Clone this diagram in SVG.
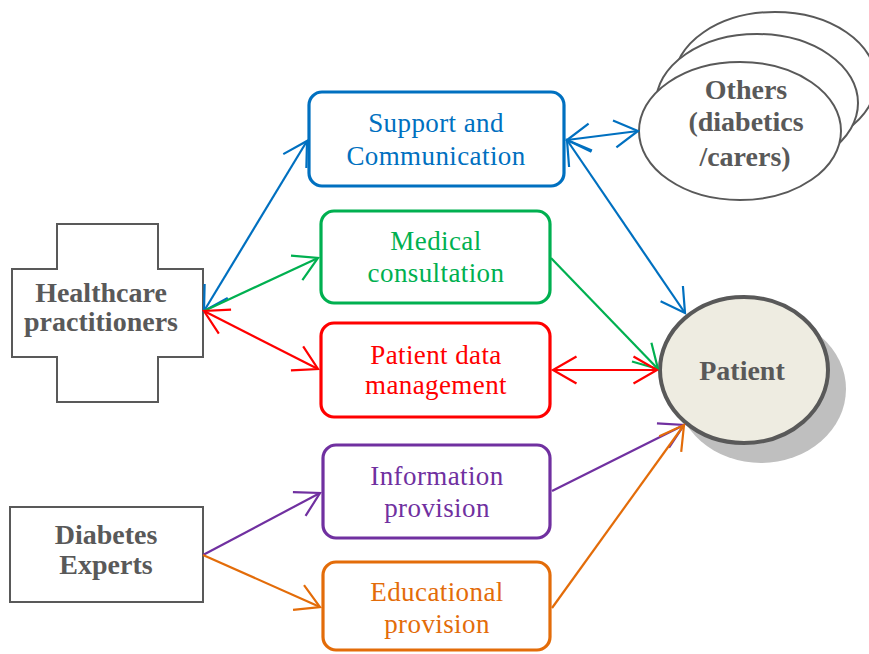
<svg xmlns="http://www.w3.org/2000/svg" width="869" height="654" viewBox="0 0 869 654">
<style>
.box{fill:#fff;stroke-width:3.2}
.lbl{font-family:"Liberation Serif",serif;font-size:27px;letter-spacing:0.4px;text-anchor:middle}
.bold{font-family:"Liberation Serif",serif;font-weight:bold;font-size:28px;fill:#595959;text-anchor:middle}
.gray{fill:#fff;stroke:#595959;stroke-width:2}
.c{fill:none;stroke-width:2.2}
</style>
<defs>
<marker id="mb" markerUnits="userSpaceOnUse" orient="auto-start-reverse" viewBox="-30 -20 34 40" markerWidth="34" markerHeight="40" refX="0" refY="0"><path d="M-23.5,-13.5 L0,0 L-23.5,13.5" fill="none" stroke="#0070C0" stroke-width="2.2"/></marker>
<marker id="mg" markerUnits="userSpaceOnUse" orient="auto-start-reverse" viewBox="-30 -20 34 40" markerWidth="34" markerHeight="40" refX="0" refY="0"><path d="M-23.5,-13.5 L0,0 L-23.5,13.5" fill="none" stroke="#00B050" stroke-width="2.2"/></marker>
<marker id="mr" markerUnits="userSpaceOnUse" orient="auto-start-reverse" viewBox="-30 -20 34 40" markerWidth="34" markerHeight="40" refX="0" refY="0"><path d="M-23.5,-13.5 L0,0 L-23.5,13.5" fill="none" stroke="#FF0000" stroke-width="2.2"/></marker>
<marker id="mp" markerUnits="userSpaceOnUse" orient="auto-start-reverse" viewBox="-30 -20 34 40" markerWidth="34" markerHeight="40" refX="0" refY="0"><path d="M-23.5,-13.5 L0,0 L-23.5,13.5" fill="none" stroke="#7030A0" stroke-width="2.2"/></marker>
<marker id="mo" markerUnits="userSpaceOnUse" orient="auto-start-reverse" viewBox="-30 -20 34 40" markerWidth="34" markerHeight="40" refX="0" refY="0"><path d="M-23.5,-13.5 L0,0 L-23.5,13.5" fill="none" stroke="#E36C09" stroke-width="2.2"/></marker>
</defs>

<g id="others">
<ellipse cx="775" cy="81" rx="101" ry="69" class="gray"/>
<ellipse cx="757" cy="103" rx="101" ry="69" class="gray"/>
<ellipse cx="740" cy="131" rx="101" ry="69" class="gray"/>
<text class="bold" x="746" y="99">Others</text>
<text class="bold" x="746" y="131">(diabetics</text>
<text class="bold" x="745" y="166">/carers)</text>
</g>

<g id="healthcare">
<path d="M57,224 H158 V269 H203 V357 H158 V402 H57 V357 H12 V269 H57 Z" class="gray"/>
<text class="bold" x="101" y="302">Healthcare</text>
<text class="bold" x="101" y="331">practitioners</text>
</g>

<g id="diabetes">
<rect x="10" y="507" width="193" height="95" class="gray"/>
<text class="bold" x="106" y="544">Diabetes</text>
<text class="bold" x="106" y="574">Experts</text>
</g>

<g id="support">
<rect x="309" y="92" width="255" height="94" rx="13" class="box" stroke="#0070C0"/>
<text class="lbl" fill="#0070C0" x="436" y="132">Support and</text>
<text class="lbl" fill="#0070C0" x="436" y="165">Communication</text>
</g>

<g id="medical">
<rect x="321" y="211" width="229" height="92" rx="13" class="box" stroke="#00B050"/>
<text class="lbl" fill="#00B050" x="436" y="250">Medical</text>
<text class="lbl" fill="#00B050" x="436" y="282">consultation</text>
</g>

<g id="patientdata">
<rect x="321" y="323" width="229" height="94" rx="13" class="box" stroke="#FF0000"/>
<text class="lbl" fill="#FF0000" x="436" y="364">Patient data</text>
<text class="lbl" fill="#FF0000" x="436" y="394">management</text>
</g>

<g id="information">
<rect x="323" y="445" width="227" height="93" rx="13" class="box" stroke="#7030A0"/>
<text class="lbl" fill="#7030A0" x="437" y="485">Information</text>
<text class="lbl" fill="#7030A0" x="437" y="517">provision</text>
</g>

<g id="educational">
<rect x="323" y="562" width="227" height="88" rx="13" class="box" stroke="#E36C09"/>
<text class="lbl" fill="#E36C09" x="437" y="601">Educational</text>
<text class="lbl" fill="#E36C09" x="437" y="633">provision</text>
</g>

<g id="patient">
<ellipse cx="761" cy="389" rx="85" ry="74" fill="#BFBFBF"/>
<ellipse cx="744" cy="370" rx="84" ry="73" fill="#EEECE1" stroke="#595959" stroke-width="4"/>
<text class="bold" x="742" y="380">Patient</text>
</g>

<g id="connectors">
<line class="c" stroke="#0070C0" x1="204" y1="311" x2="307" y2="141" marker-start="url(#mb)" marker-end="url(#mb)"/>
<line class="c" stroke="#00B050" x1="204" y1="311" x2="318" y2="258" marker-end="url(#mg)"/>
<line class="c" stroke="#FF0000" x1="204" y1="311" x2="318" y2="369" marker-start="url(#mr)" marker-end="url(#mr)"/>
<line class="c" stroke="#0070C0" x1="567" y1="140" x2="638" y2="131" marker-start="url(#mb)" marker-end="url(#mb)"/>
<line class="c" stroke="#0070C0" x1="567" y1="140" x2="685" y2="313" marker-start="url(#mb)" marker-end="url(#mb)"/>
<line class="c" stroke="#00B050" x1="551" y1="258" x2="658" y2="369" marker-end="url(#mg)"/>
<line class="c" stroke="#FF0000" x1="553" y1="370" x2="657" y2="370" marker-start="url(#mr)" marker-end="url(#mr)"/>
<line class="c" stroke="#7030A0" x1="203" y1="555" x2="320" y2="493" marker-end="url(#mp)"/>
<line class="c" stroke="#E36C09" x1="203" y1="555" x2="320" y2="607" marker-end="url(#mo)"/>
<line class="c" stroke="#7030A0" x1="552" y1="491" x2="684" y2="425" marker-end="url(#mp)"/>
<line class="c" stroke="#E36C09" x1="552" y1="608" x2="684" y2="425" marker-end="url(#mo)"/>
</g>
</svg>
